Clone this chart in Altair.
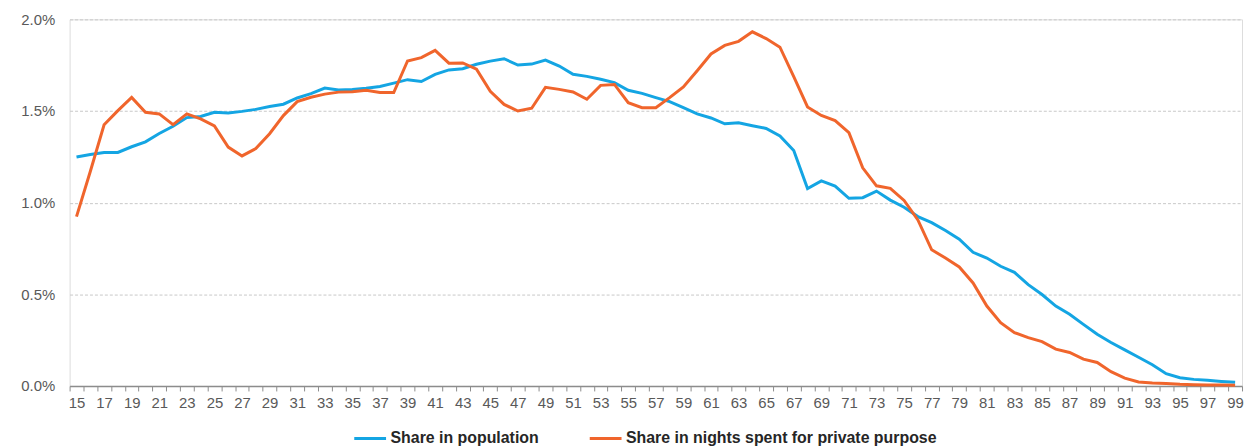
import altair as alt
import pandas as pd

ages = list(range(15, 100))

population = [
    1.249, 1.263, 1.274, 1.274, 1.305, 1.332, 1.377, 1.417, 1.464, 1.470,
    1.493, 1.489, 1.498, 1.509, 1.525, 1.537, 1.571, 1.595, 1.625, 1.615,
    1.617, 1.624, 1.634, 1.652, 1.671, 1.661, 1.700, 1.724, 1.731, 1.755,
    1.772, 1.785, 1.751, 1.756, 1.778, 1.745, 1.700, 1.689, 1.673, 1.655,
    1.613, 1.596, 1.573, 1.551, 1.518, 1.484, 1.462, 1.430, 1.436, 1.420,
    1.405, 1.364, 1.284, 1.077, 1.119, 1.090, 1.024, 1.027, 1.063, 1.014,
    0.975, 0.924, 0.891, 0.848, 0.801, 0.729, 0.698, 0.653, 0.620, 0.553,
    0.499, 0.436, 0.391, 0.336, 0.282, 0.237, 0.197, 0.157, 0.116, 0.067,
    0.045, 0.036, 0.031, 0.025, 0.020,
]

nights = [
    0.924, 1.170, 1.425, 1.502, 1.574, 1.493, 1.484, 1.426, 1.484, 1.457,
    1.419, 1.303, 1.255, 1.295, 1.376, 1.475, 1.551, 1.575, 1.592, 1.603,
    1.605, 1.613, 1.601, 1.601, 1.773, 1.791, 1.831, 1.761, 1.762, 1.728,
    1.607, 1.536, 1.500, 1.515, 1.629, 1.618, 1.604, 1.564, 1.640, 1.645,
    1.545, 1.518, 1.518, 1.573, 1.631, 1.720, 1.811, 1.858, 1.880, 1.932,
    1.895, 1.848, 1.688, 1.522, 1.476, 1.448, 1.382, 1.190, 1.092, 1.078,
    1.012, 0.906, 0.743, 0.698, 0.649, 0.562, 0.436, 0.345, 0.291, 0.264,
    0.242, 0.201, 0.183, 0.146, 0.128, 0.078, 0.043, 0.022, 0.016, 0.013,
    0.009, 0.007, 0.005, 0.005, 0.004,
]

series_names = ["Share in population", "Share in nights spent for private purpose"]
series_colors = ["#14A5E3", "#F0652C"]

y_ticks = [0.0, 0.5, 1.0, 1.5, 2.0]
x_tick_values = [a - 0.5 for a in ages] + [ages[-1] + 0.5]

df = pd.DataFrame({
    "age": ages + ages,
    "share": population + nights,
    "series": [series_names[0]] * len(ages) + [series_names[1]] * len(ages),
})

FONT = "Liberation Sans"

chart = alt.Chart(df).mark_line(strokeWidth=3).encode(
    x=alt.X(
        "age:Q",
        scale=alt.Scale(domain=[14.5, 99.5], nice=False, zero=False),
        axis=alt.Axis(
            values=x_tick_values,
            title=None,
            grid=False,
            labelExpr="(datum.value % 2 == 0.5) ? format(datum.value + 0.5, 'd') : ''",
            labelOffset=6.94,
            labelOverlap=False,
            labelFlush=False,
            labelBound=False,
            tickSize=5,
            tickColor="#8C8C8C",
            tickWidth=1,
            domainColor="#8C8C8C",
            domainWidth=1.5,
            labelColor="#595959",
            labelFont=FONT,
            labelFontSize=15,
            labelPadding=5,
        ),
    ),
    y=alt.Y(
        "share:Q",
        scale=alt.Scale(domain=[0, 2.0], nice=False, zero=True),
        axis=alt.Axis(
            values=y_ticks,
            title=None,
            labelExpr="format(datum.value, '.1f') + '%'",
            domain=False,
            ticks=False,
            grid=True,
            gridColor="#C8C8C8",
            gridDash=[3, 2],
            gridWidth=1,
            labelColor="#595959",
            labelFont=FONT,
            labelFontSize=15,
            labelPadding=15,
        ),
    ),
    color=alt.Color(
        "series:N",
        scale=alt.Scale(domain=series_names, range=series_colors),
        legend=alt.Legend(
            title=None,
            orient="none",
            legendX=285,
            legendY=404,
            direction="horizontal",
            symbolType="stroke",
            symbolSize=1024,
            symbolStrokeWidth=3,
            labelFont=FONT,
            labelFontSize=16,
            labelFontWeight="bold",
            labelColor="#262626",
            labelOffset=3,
            labelLimit=600,
            columnPadding=44,
            padding=0,
        ),
    ),
).properties(
    width=1180,
    height=369,
    autosize=alt.AutoSizeParams(type="none"),
    padding={"left": 62, "top": 10, "right": 3, "bottom": 60},
).configure_view(stroke=None).configure(background="white")

chart.save("out.html", embed_options={"renderer": "svg", "actions": False})
